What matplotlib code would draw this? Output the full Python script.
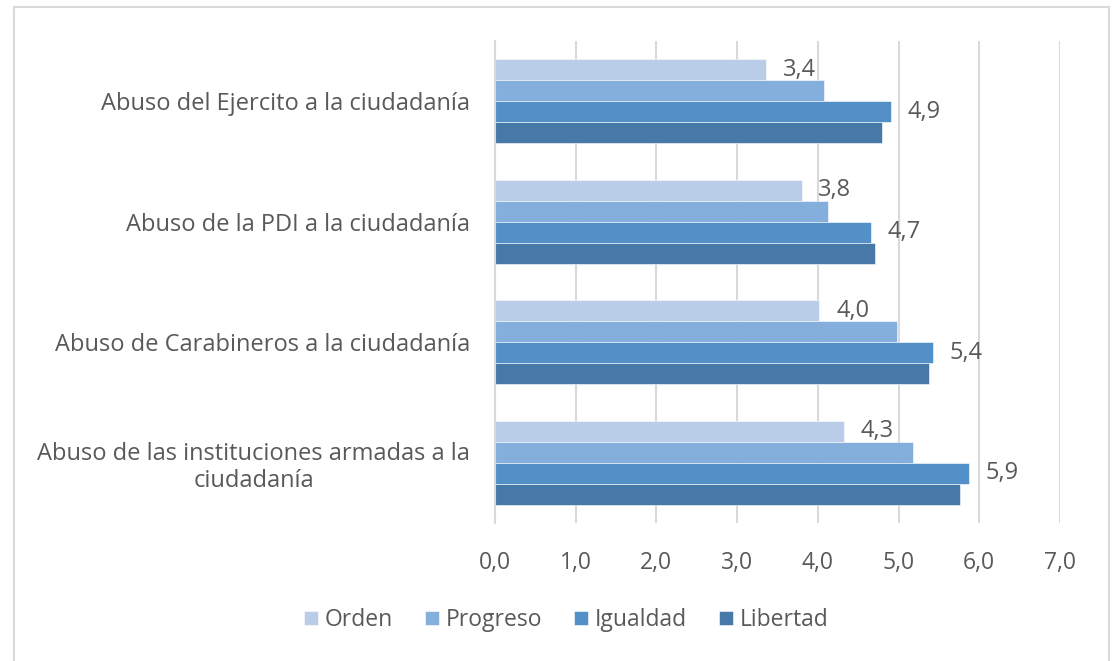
import matplotlib
matplotlib.use("Agg")
import matplotlib.pyplot as plt
import numpy as np
from matplotlib.patches import Rectangle

plt.rcParams['font.family'] = ['Open Sans', 'DejaVu Sans']

# datos
categorias = ["Abuso del Ejercito a la ciudadanía",
              "Abuso de la PDI a la ciudadanía",
              "Abuso de Carabineros a la ciudadanía",
              "Abuso de las instituciones armadas a la\nciudadanía"]
series = ["Orden", "Progreso", "Igualdad", "Libertad"]
orden = [3.36, 3.80, 4.02, 4.32]
progreso = [4.08, 4.13, 4.98, 5.18]
igualdad = [4.91, 4.66, 5.43, 5.87]
libertad = [4.80, 4.71, 5.38, 5.76]
colores = ["#b9cde8", "#84afdc", "#5490c8", "#4678a8"]
con_etiqueta = [True, False, True, False]
ticks_x = [0, 1, 2, 3, 4, 5, 6, 7]

gris = "#595959"
fig = plt.figure(figsize=(11.12, 6.61), dpi=100)
ax = fig.add_axes([0.4451, 0.2088, 0.5081, 0.7292])

valores = [orden, progreso, igualdad, libertad]
y = np.arange(len(categorias))
alto = 0.174
for i, (nombre, vals) in enumerate(zip(series, valores)):
    pos = y - 1.5 * alto + i * alto
    ax.barh(pos, vals, height=alto, color=colores[i], edgecolor="white",
            linewidth=0.4, label=nombre, zorder=3)
    if con_etiqueta[i]:
        for p, v in zip(pos, vals):
            ax.annotate(("%.1f" % v).replace(".", ","), (v, p), xytext=(12, 0),
                        textcoords="offset points", va="center", ha="left",
                        fontsize=17, color=gris, zorder=4)

ax.set_ylim(len(categorias) - 0.5, -0.5)
ax.set_xlim(0, 7)
ax.set_xticks(ticks_x)
ax.set_xticklabels([("%.1f" % t).replace(".", ",") for t in ticks_x],
                   fontsize=16.5, color=gris)
ax.set_yticks(y)
ax.set_yticklabels(categorias, fontsize=17, color=gris,
                   multialignment="center", linespacing=1.2)
ax.tick_params(axis="both", length=0)
ax.tick_params(axis="y", pad=18)
ax.tick_params(axis="x", pad=20)
ax.grid(axis="x", color="#d9d9d9", linewidth=1.5, zorder=0)
for s in ["top", "right", "bottom"]:
    ax.spines[s].set_visible(False)
ax.spines["left"].set_color("#d9d9d9")
ax.spines["left"].set_linewidth(1.5)
ax.spines["left"].set_zorder(5)

fig.legend(loc="center", bbox_to_anchor=(0.509, 0.062), ncol=4, frameon=False,
           fontsize=16.5, labelcolor=gris, handlelength=0.6, handleheight=0.6,
           handletextpad=0.3, columnspacing=1.4)

# borde del gráfico
fig.patches.append(Rectangle((14 / 1112, -0.01), 1095 / 1112, 1 - 7 / 661 + 0.01,
                             transform=fig.transFigure, fill=False,
                             edgecolor="#d9d9d9", linewidth=1.5))

fig.savefig("out.png", dpi=100)
